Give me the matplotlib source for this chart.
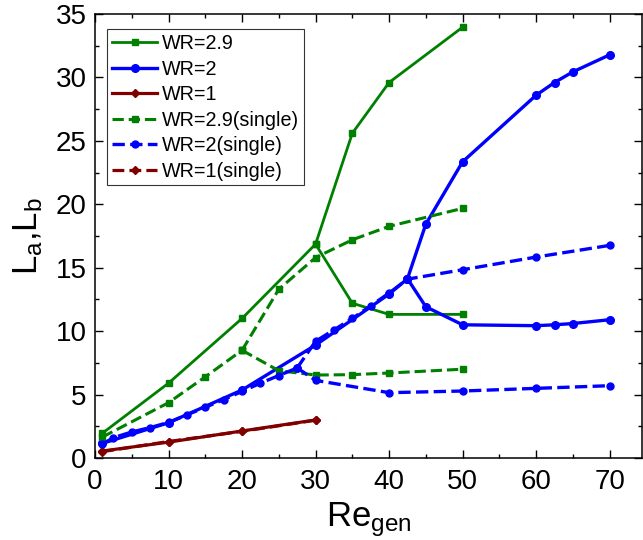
import numpy as np
import matplotlib
matplotlib.use("Agg")
import matplotlib.pyplot as plt
from matplotlib.ticker import MultipleLocator

plt.rcParams['font.family'] = ['Liberation Sans', 'DejaVu Sans']
plt.rcParams['mathtext.fontset'] = 'custom'
plt.rcParams['mathtext.rm'] = 'Liberation Sans'
plt.rcParams['mathtext.it'] = 'Liberation Sans'

# WR=2.9 (solid)
re_29_up = [1, 10, 20, 30, 35, 40, 50]
l_29_up = [1.95, 5.9, 11.0, 16.86, 25.6, 29.6, 33.96]
re_29_lo = [30, 35, 40, 50]
l_29_lo = [16.86, 12.2, 11.32, 11.32]

# WR=2 (solid)
re_2_up = [1, 10, 20, 30, 40, 42.5, 45, 50, 60, 62.5, 65, 70]
l_2_up = [1.15, 2.78, 5.36, 8.9, 12.92, 14.13, 18.44, 23.35, 28.6, 29.6, 30.44, 31.78]
re_2_lo = [42.5, 45, 50, 60, 62.5, 65, 70]
l_2_lo = [14.13, 11.92, 10.5, 10.43, 10.5, 10.6, 10.9]

# WR=1 (solid)
re_1 = [1, 10, 20, 30]
l_1 = [0.55, 1.25, 2.13, 3.0]

# WR=2.9 (single)
re_29s_base = [1, 10, 15, 20]
l_29s_base = [1.65, 4.36, 6.4, 8.49]
re_29s_up = [20, 25, 30, 35, 40, 50]
l_29s_up = [8.49, 13.3, 15.8, 17.2, 18.26, 19.68]
re_29s_lo = [20, 25, 30, 35, 40, 50]
l_29s_lo = [8.49, 6.88, 6.54, 6.57, 6.7, 7.0]

# WR=2 (single)
re_2s_base = [1, 2.5, 5, 7.5, 10, 12.5, 15, 17.5, 20, 22.5, 25, 27.5]
l_2s_base = [1.1, 1.6, 2.05, 2.4, 2.8, 3.4, 4.0, 4.6, 5.25, 5.9, 6.5, 7.1]
re_2s_up = [27.5, 30, 32.5, 35, 37.5, 40, 42.5, 50, 60, 70]
l_2s_up = [7.1, 9.2, 10.1, 11.0, 12.0, 13.0, 14.1, 14.84, 15.84, 16.76]
re_2s_lo = [27.5, 30, 40, 50, 60, 70]
l_2s_lo = [7.1, 6.12, 5.15, 5.28, 5.49, 5.7]

# WR=1 (single)
re_1s = [1, 10, 20, 30]
l_1s = [0.5, 1.3, 2.1, 2.98]

GREEN = '#008000'
BLUE = '#0000ff'
RED = '#800000'

fig = plt.figure(figsize=(6.43, 5.40), dpi=100)
ax = fig.add_axes([95/643, 1-458/540, (642-95)/643, (458-14)/540])

def draw(xs_list, ys_list, color, ls, marker, ms, lw, label):
    for i, (xs, ys) in enumerate(zip(xs_list, ys_list)):
        ax.plot(xs, ys, color=color, ls=ls, marker=marker, ms=ms, lw=lw,
                label=label if i == 0 else None)

draw([re_29_up, re_29_lo], [l_29_up, l_29_lo], GREEN, '-', 's', 5, 2.0, 'WR=2.9')
draw([re_2_up, re_2_lo], [l_2_up, l_2_lo], BLUE, '-', 'o', 5.5, 2.4, 'WR=2')
draw([re_1], [l_1], RED, '-', 'D', 4.5, 2.3, 'WR=1')
draw([re_29s_base, re_29s_up, re_29s_lo], [l_29s_base, l_29s_up, l_29s_lo],
     GREEN, '--', 's', 5, 2.2, 'WR=2.9(single)')
draw([re_2s_base, re_2s_up, re_2s_lo], [l_2s_base, l_2s_up, l_2s_lo],
     BLUE, '--', 'o', 5.0, 2.4, 'WR=2(single)')
draw([re_1s], [l_1s], RED, '--', 'D', 4.5, 2.3, 'WR=1(single)')

ax.set_xlim(0, 74.4)
ax.set_ylim(0, 35)
ax.xaxis.set_major_locator(MultipleLocator(10))
ax.xaxis.set_minor_locator(MultipleLocator(5))
ax.yaxis.set_major_locator(MultipleLocator(5))
ax.yaxis.set_minor_locator(MultipleLocator(2.5))
ax.tick_params(which='both', direction='in', top=True, right=True, width=1.0)
ax.tick_params(which='major', length=6, labelsize=20)
ax.tick_params(which='minor', length=3)
ax.tick_params(axis='x', pad=8)
ax.tick_params(axis='y', pad=6)
for s in ax.spines.values():
    s.set_linewidth(1.1)

ax.set_xlabel('Re$_\\mathregular{gen}$', fontsize=25, labelpad=4)
ax.set_ylabel('L$_\\mathregular{a}$,L$_\\mathregular{b}$', fontsize=25, labelpad=8)

leg = ax.legend(loc='upper left', bbox_to_anchor=(0.022, 0.966), fontsize=14.2,
                handlelength=2.3, handletextpad=0.25, labelspacing=0.33,
                borderpad=0.25, borderaxespad=0.0, fancybox=False,
                frameon=True, edgecolor='black')
leg.get_frame().set_linewidth(0.8)

fig.savefig('out.png', dpi=100)
